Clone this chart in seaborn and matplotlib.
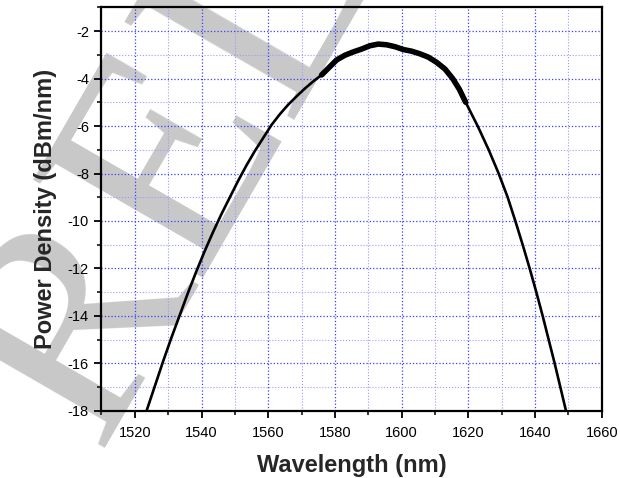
import numpy as np
import matplotlib
matplotlib.use("Agg")
import matplotlib.pyplot as plt
import seaborn as sns
from matplotlib.ticker import MultipleLocator

# ----------------------------
# Data
# ----------------------------
wavelength = [1523.5, 1526.0, 1528.5, 1531.0, 1533.5, 1536.0, 1538.5, 1541.0,
              1543.5, 1546.0, 1548.5, 1551.0, 1553.5, 1556.0, 1558.5, 1561.0,
              1563.5, 1566.0, 1568.5, 1571.0, 1573.5, 1576.0, 1578.5, 1580.5,
              1583.0, 1585.5, 1588.0, 1590.5, 1593.0, 1595.5, 1598.0, 1600.5,
              1603.0, 1605.5, 1608.0, 1610.5, 1613.0, 1615.3, 1617.3, 1619.2,
              1621.0, 1622.8, 1626.1, 1629.1, 1631.8, 1634.1, 1636.3, 1638.4,
              1640.4, 1642.3, 1644.1, 1645.9, 1647.6, 1649.3]
power = [-18.0, -16.95, -15.9, -14.9, -13.95, -13.0, -12.1, -11.25,
         -10.45, -9.7, -9.0, -8.3, -7.65, -7.05, -6.5, -5.95,
         -5.5, -5.1, -4.75, -4.42, -4.12, -3.85, -3.5, -3.22,
         -3.02, -2.88, -2.76, -2.62, -2.55, -2.58, -2.66, -2.78,
         -2.85, -2.96, -3.1, -3.32, -3.6, -4.0, -4.45, -5.0,
         -5.5, -6.0, -7.0, -8.0, -9.0, -10.0, -11.0, -12.0,
         -13.0, -14.0, -15.0, -16.0, -17.0, -18.0]

x_label = "Wavelength (nm)"
y_label = "Power Density (dBm/nm)"
watermark = "RELEASE"

# ----------------------------
# Plot
# ----------------------------
sns.set_theme(style="white")
plt.rcParams["font.family"] = ["Liberation Sans", "DejaVu Sans"]
plt.rcParams["axes.unicode_minus"] = False

fig = plt.figure(figsize=(6.2, 4.78), dpi=100)
ax = fig.add_axes([0.1637, 0.1402, 0.8068, 0.8446])
ax.patch.set_alpha(0)

# light grey watermark behind everything
fig.text(0.155, 0.06, watermark, rotation=60, rotation_mode="anchor",
         ha="left", va="baseline", fontsize=215, color="#c8c8c8",
         family="Liberation Serif", zorder=-5)

sns.lineplot(x=wavelength, y=power, ax=ax, color="black", linewidth=1.9,
             estimator=None, sort=False)
# noisy top of the spectrum looks thicker
top = [(w, p) for w, p in zip(wavelength, power) if 1576 <= w <= 1620]
ax.plot([t[0] for t in top], [t[1] for t in top], color="black", linewidth=4.0,
        solid_joinstyle="round", solid_capstyle="round")

ax.set_xlim(1510, 1660)
ax.set_ylim(-18, -1)
ax.xaxis.set_major_locator(MultipleLocator(20))
ax.xaxis.set_minor_locator(MultipleLocator(10))
ax.yaxis.set_major_locator(MultipleLocator(2))
ax.yaxis.set_minor_locator(MultipleLocator(1))

ax.grid(True, which="major", color="#3c3cff", linestyle=":", linewidth=0.9)
ax.grid(True, which="minor", color="#9a9aff", linestyle=":", linewidth=0.8)
ax.set_axisbelow(True)

ax.tick_params(which="major", direction="out", length=5, width=1.3,
               labelsize=10.5, pad=4, bottom=True, left=True, colors="black")
ax.tick_params(which="minor", direction="out", length=3, width=1.3,
               bottom=True, left=True)
ax.tick_params(axis="x", which="major", pad=6)

for s in ax.spines.values():
    s.set_visible(True)
    s.set_color("black")
    s.set_linewidth(1.6)

ax.set_xlabel(x_label, fontsize=17, fontweight="bold", labelpad=10)
ax.set_ylabel(y_label, fontsize=17, fontweight="bold", labelpad=8)

fig.savefig("out.png", dpi=100)
